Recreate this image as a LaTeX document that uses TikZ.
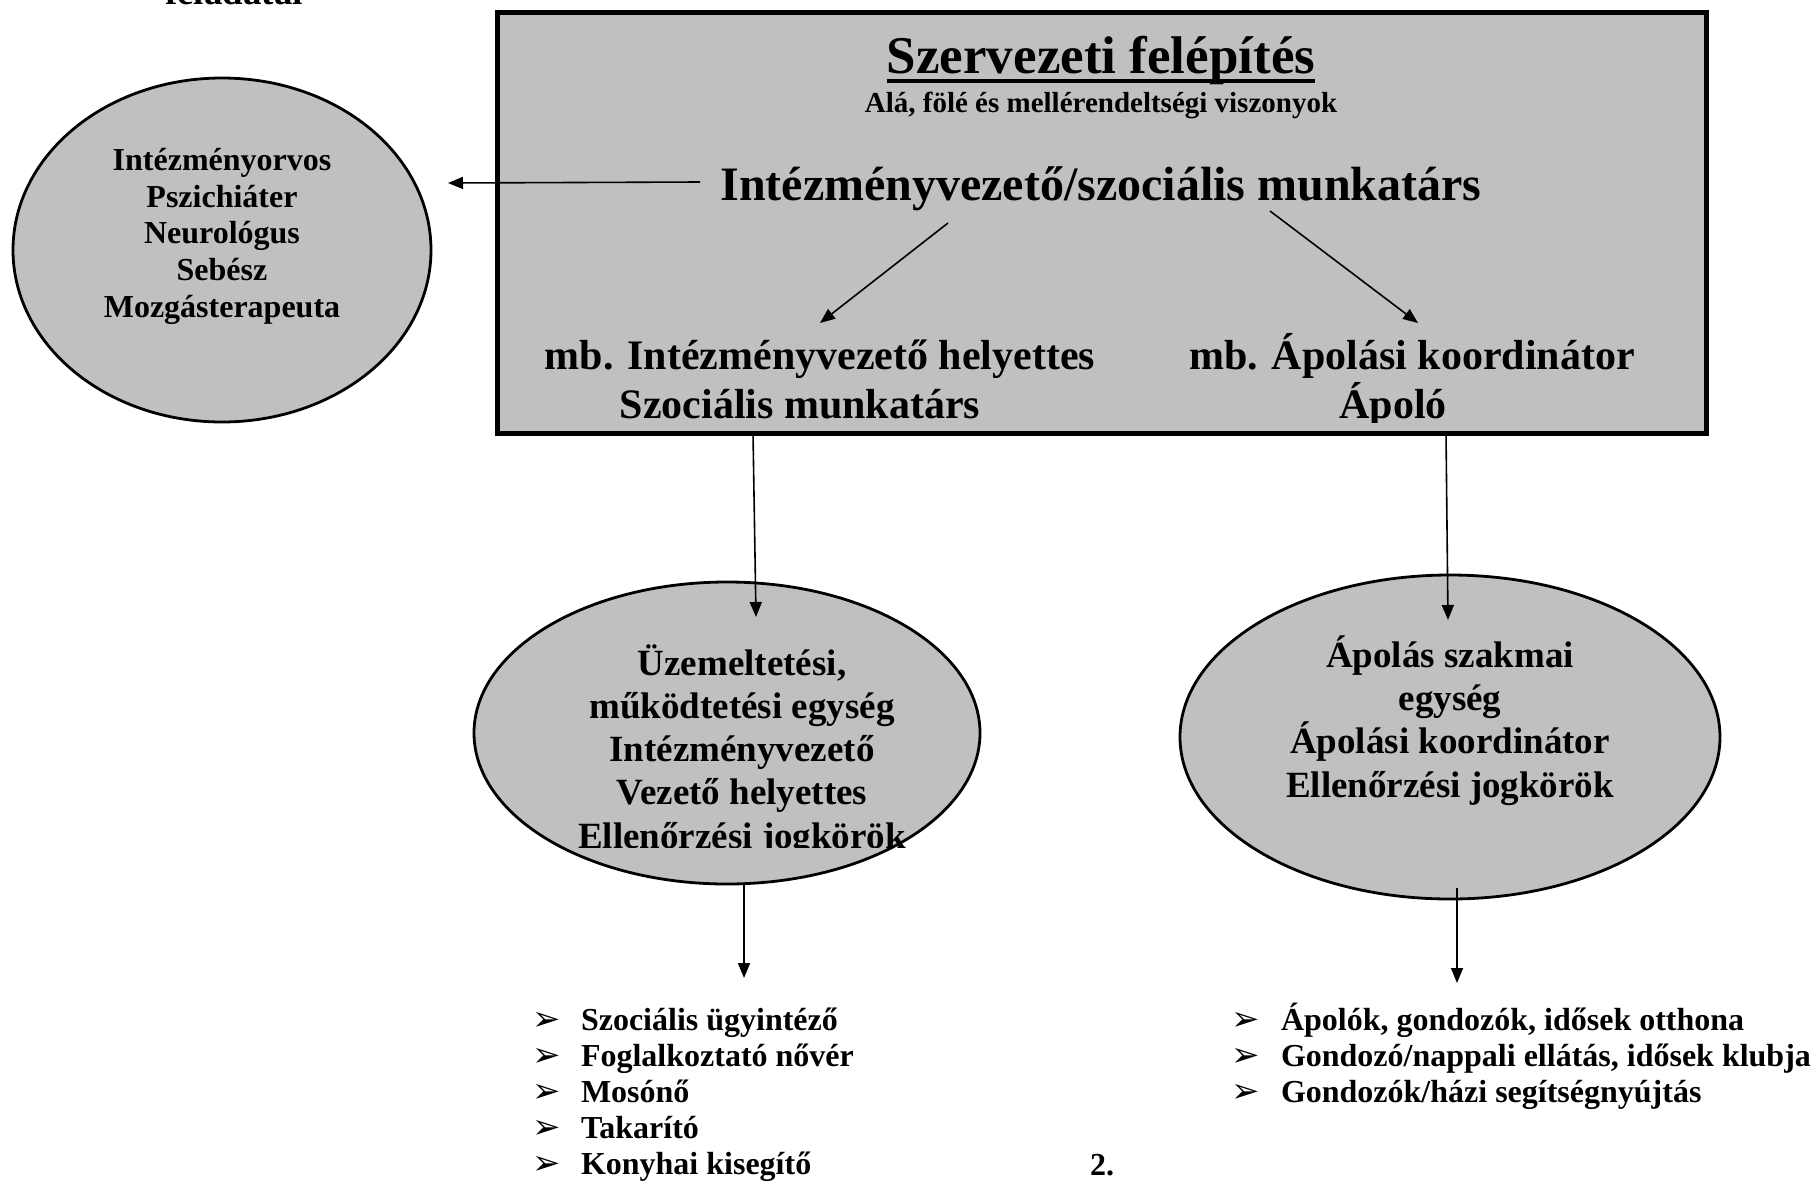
\documentclass[tikz,border=0pt]{standalone}
\usepackage{fontspec}
\setmainfont{Liberation Serif}
\newfontfamily\dejavu{DejaVu Sans}
\usetikzlibrary{arrows.meta,shapes.geometric}
\definecolor{boxgray}{RGB}{192,192,192}
\begin{document}
\begin{tikzpicture}[x=1pt,y=-1pt,
  txt/.style={anchor=base,inner sep=0pt,outer sep=0pt},
  fa/.style={txt,font=\fontsize{53}{60}\selectfont\bfseries},
  fb/.style={txt,font=\fontsize{48}{55}\selectfont\bfseries},
  fc/.style={txt,font=\fontsize{42}{48}\selectfont\bfseries},
  fd/.style={txt,font=\fontsize{37}{43}\selectfont\bfseries},
  fe/.style={txt,font=\fontsize{32}{37}\selectfont\bfseries},
  ff/.style={txt,font=\fontsize{29}{33}\selectfont\bfseries},
  bul/.style={txt,anchor=base west,font=\fontsize{32}{37}\selectfont\bfseries},
  bulmark/.style={txt,anchor=base west,font=\fontsize{34}{38}\selectfont\dejavu},
  arr/.style={line width=1.6pt,-{Triangle[length=15pt,width=12pt]}},
  oval/.style={ellipse,draw,line width=2.8pt,fill=boxgray,inner sep=0pt},
]
\fill[white] (0,0) rectangle (1813,1184);
\useasboundingbox (0,0) rectangle (1813,1184);

% cut-off heading at the top left
\node[fd] (fel) at (234,4) {feladatai};

% main box
\node[draw,line width=5pt,fill=boxgray,minimum width=1209pt,minimum height=421pt,inner sep=0pt] (box) at (1101.5,222.5) {};

% ellipses
\node[oval,minimum width=418pt,minimum height=344pt] (eL) at (222,250) {};
\node[oval,minimum width=506pt,minimum height=302pt] (eM) at (727,733) {};
\node[oval,minimum width=540pt,minimum height=324pt] (eR) at (1450,737) {};

% box texts
\node[fa] (title) at (1101,73) {Szervezeti felépítés};
\draw[line width=4pt] ([yshift=-7.5pt]title.base west) -- ([yshift=-7.5pt]title.base east);
\node[ff] (sub) at (1101,112) {Alá, fölé és mellérendeltségi viszonyok};
\node[fb] (head) at (1101,200) {Intézményvezető/szociális munkatárs};
\node[fc] (mb1) at (820,369) {mb. Intézményvezető helyettes};
\node[fc] (mb2) at (1412,369) {mb. Ápolási koordinátor};
\begin{scope}
  \clip (497,0) rectangle (1706,422);
  \node[fc] (szoc) at (800,418) {Szociális munkatárs};
  \node[fc] (apolo) at (1393,418) {Ápoló};
\end{scope}

% left ellipse text
\node[fe] (l1) at (222,170) {Intézményorvos};
\node[fe] (l2) at (222,207) {Pszichiáter};
\node[fe] (l3) at (222,243) {Neurológus};
\node[fe] (l4) at (222,280) {Sebész};
\node[fe] (l5) at (222,317) {Mozgásterapeuta};

% middle ellipse text
\begin{scope}
  \clip (400,560) rectangle (1000,847);
  \node[fd] (m1) at (742,675) {Üzemeltetési,};
  \node[fd] (m2) at (742,718) {működtetési egység};
  \node[fd] (m3) at (742,761) {Intézményvezető};
  \node[fd] (m4) at (742,804) {Vezető helyettes};
  \node[fd] (m5) at (742,848) {Ellenőrzési jogkörök};
\end{scope}

% right ellipse text
\node[fd] (r1) at (1450,667) {Ápolás szakmai};
\node[fd] (r2) at (1450,710) {egység};
\node[fd] (r3) at (1450,753) {Ápolási koordinátor};
\node[fd] (r4) at (1450,797) {Ellenőrzési jogkörök};

% left list
\node[bulmark] (bl1) at (532,1030) {➢};
\node[bul] (tl1) at (581,1030) {Szociális ügyintéző};
\node[bulmark] (bl2) at (532,1066) {➢};
\node[bul] (tl2) at (581,1066) {Foglalkoztató nővér};
\node[bulmark] (bl3) at (532,1102) {➢};
\node[bul] (tl3) at (581,1102) {Mosónő};
\node[bulmark] (bl4) at (532,1138) {➢};
\node[bul] (tl4) at (581,1138) {Takarító};
\node[bulmark] (bl5) at (532,1174) {➢};
\node[bul] (tl5) at (581,1174) {Konyhai kisegítő};

% right list
\node[bulmark] (br1) at (1231,1030) {➢};
\node[bul] (tr1) at (1281,1030) {Ápolók, gondozók, idősek otthona};
\node[bulmark] (br2) at (1231,1066) {➢};
\node[bul] (tr2) at (1281,1066) {Gondozó/nappali ellátás, idősek klubja};
\node[bulmark] (br3) at (1231,1102) {➢};
\node[bul] (tr3) at (1281,1102) {Gondozók/házi segítségnyújtás};

% page number
\node[bul] (pg) at (1090,1175) {2.};

% connector end points
\coordinate (hs) at (700,182);  \coordinate (he) at (448,183);
\coordinate (d1s) at (948,223); \coordinate (d1e) at (820,323);
\coordinate (d2s) at (1270,211); \coordinate (d2e) at (1418,323);
\coordinate (v1s) at (753,433); \coordinate (v1e) at (756,617);
\coordinate (v2s) at (1446,433); \coordinate (v2e) at (1448,620);
\coordinate (b1s) at (744,884); \coordinate (b1e) at (744,978);
\coordinate (b2s) at (1457,888); \coordinate (b2e) at (1457,983);

\draw[arr] (hs) -- (he);
\draw[arr] (d1s) -- (d1e);
\draw[arr] (d2s) -- (d2e);
\draw[arr] (v1s) -- (v1e);
\draw[arr] (v2s) -- (v2e);
\draw[arr] (b1s) -- (b1e);
\draw[arr] (b2s) -- (b2e);
\end{tikzpicture}
\end{document}
